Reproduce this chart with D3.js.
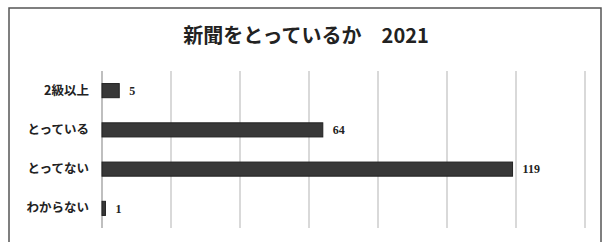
<!DOCTYPE html>
<html>
<head>
<meta charset="utf-8">
<script src="https://cdn.jsdelivr.net/npm/d3@7"></script>
<style>
  body { margin: 0; background: #fff; }
  text { font-family: "Noto Sans CJK JP", "Noto Sans", sans-serif; }
</style>
</head>
<body>
<svg id="chart"></svg>
<script>
// data
var categories = ["2級以上", "とっている", "とってない", "わからない"];
var values = [5, 64, 119, 1];
var xTicks = [0, 20, 40, 60, 80, 100, 120, 140];
var title = "新聞をとっているか\u30002021";

var width = 606, height = 242;
var margin = { top: 71, right: 20, bottom: 14, left: 102 };
var w = 585 - margin.left;
var h = height - margin.top - margin.bottom;

var svg = d3.select("#chart")
    .attr("width", width)
    .attr("height", height);

// outer frame
svg.append("rect")
    .attr("x", 9)
    .attr("y", 8)
    .attr("width", 592)
    .attr("height", 250)
    .style("fill", "#fff")
    .style("stroke", "#555")
    .style("stroke-width", 1.5);

svg.append("text")
    .attr("x", 306)
    .attr("y", 43)
    .attr("text-anchor", "middle")
    .style("font-size", "20px")
    .style("font-weight", "bold")
    .style("fill", "#222")
    .text(title);

var g = svg.append("g")
    .attr("transform", "translate(" + margin.left + "," + margin.top + ")");

var xscale = d3.scaleLinear().domain([0, 140]).range([0, w]);
var yscale = d3.scaleBand().domain(categories).range([0, h]).paddingInner(0.64).paddingOuter(0.32);

// gridlines
g.selectAll("line.xgrid")
    .data(xTicks)
    .enter()
    .append("line")
    .attr("class", "xgrid")
    .attr("x1", function (d) { return xscale(d); })
    .attr("x2", function (d) { return xscale(d); })
    .attr("y1", 0)
    .attr("y2", h)
    .attr("stroke", function (d) { return d === 0 ? "#aaa" : "#ccc"; })
    .attr("stroke-width", 1.5);

// category labels
var yaxis = d3.axisLeft(yscale).tickSize(0).tickPadding(13);
g.append("g")
    .attr("class", "y-axis")
    .call(yaxis)
    .call(function (s) { s.select(".domain").remove(); })
    .selectAll("text")
    .style("font-size", "12.5px")
    .style("font-weight", "bold")
    .style("fill", "#222")
    .style("font-family", "'Noto Sans CJK JP', sans-serif");

// bars
g.selectAll("rect.bar")
    .data(values)
    .enter()
    .append("rect")
    .attr("class", "bar")
    .attr("x", xscale(0))
    .attr("y", function (d, i) { return yscale(categories[i]); })
    .attr("width", function (d) { return xscale(d) - xscale(0); })
    .attr("height", yscale.bandwidth())
    .style("fill", "#383838")
    .style("stroke", "#222")
    .style("stroke-width", 1);

// value labels
g.selectAll("text.val")
    .data(values)
    .enter()
    .append("text")
    .attr("class", "val")
    .attr("x", function (d) { return xscale(d) + 10; })
    .attr("y", function (d, i) { return yscale(categories[i]) + yscale.bandwidth() / 2; })
    .attr("dy", "0.35em")
    .style("font-family", "'Liberation Serif', serif")
    .style("font-size", "12px")
    .style("font-weight", "bold")
    .style("fill", "#222")
    .text(function (d) { return d; });
</script>
</body>
</html>
